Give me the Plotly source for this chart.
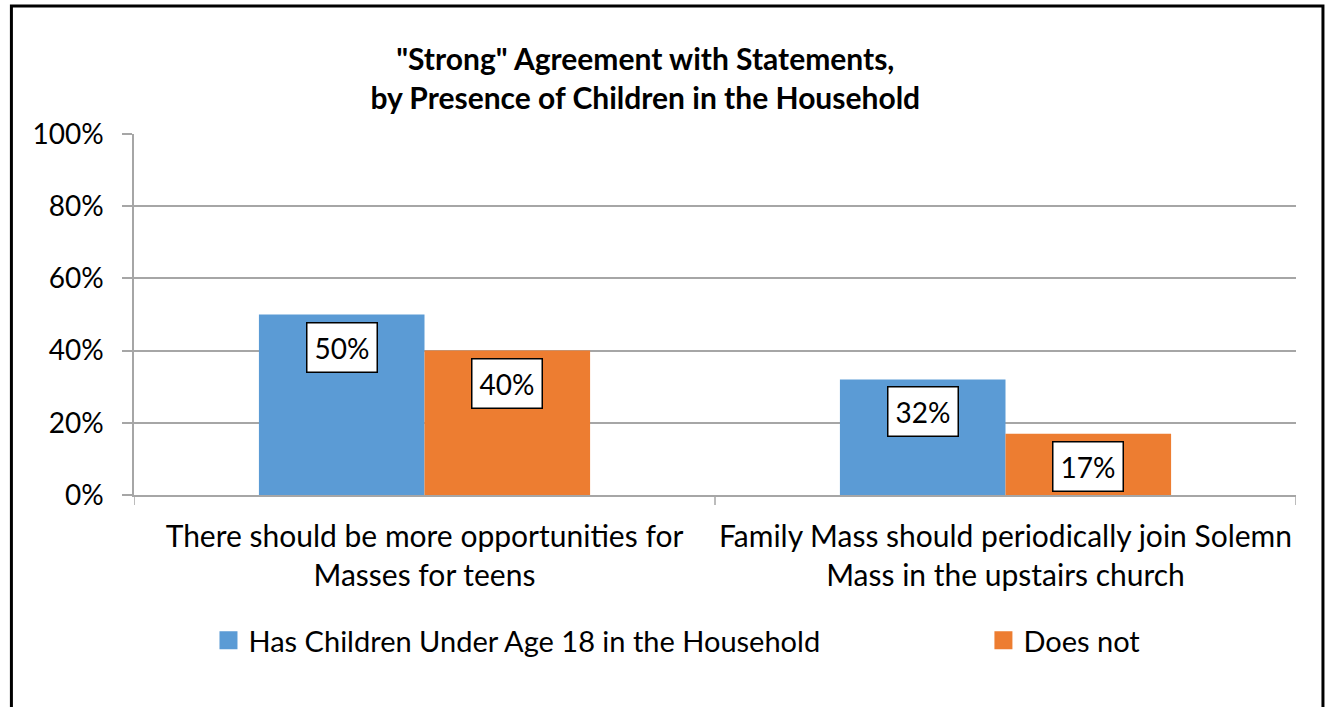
import plotly.graph_objects as go

# Survey results: share answering "strongly agree"
categories = [
    "There should be more opportunities for<br>Masses for teens",
    "Family Mass should periodically join Solemn<br>Mass in the upstairs church",
]
series_names = ["Has Children Under Age 18 in the Household", "Does not"]
has_children = [0.50, 0.32]
does_not = [0.40, 0.17]
y_ticks = [0, 0.2, 0.4, 0.6, 0.8, 1.0]
y_tick_labels = ["0%", "20%", "40%", "60%", "80%", "100%"]

BLUE = "#5B9BD5"
ORANGE = "#ED7D31"
GRID = "#A6A6A6"
FONT = "Lato"

x_idx = list(range(len(categories)))
bargap = 0.43
half = (1 - bargap) / 4  # center offset of each bar within a group

fig = go.Figure()
for name, vals, color, leg in ((series_names[0], has_children, BLUE, "legend"),
                               (series_names[1], does_not, ORANGE, "legend2")):
    fig.add_trace(go.Bar(x=x_idx, y=vals, name=name, legendgroup=name,
                         marker=dict(color=color, line=dict(width=0)),
                         showlegend=False))
    # Legend swatch: a larger square key for each series
    fig.add_trace(go.Scatter(x=[None], y=[None], mode="markers", name=name,
                             legendgroup=name, legend=leg,
                             marker=dict(symbol="square", size=16, color=color,
                                         line=dict(color=color, width=2))))

# Boxed value labels just inside the top of each bar
for offset, vals in ((-half, has_children), (half, does_not)):
    for i, v in zip(x_idx, vals):
        fig.add_annotation(x=i + offset, y=v, xref="x", yref="y",
                           text=f"{round(v * 100)}%", showarrow=False,
                           yanchor="top", yshift=-7,
                           font=dict(family=FONT, size=28, color="black"),
                           bgcolor="white", bordercolor="black",
                           borderwidth=1.5, borderpad=7)

# Outer frame around the chart
fig.add_shape(type="rect", xref="paper", yref="paper",
              x0=-0.1055, x1=1.0232, y0=-0.62, y1=1.3546,
              line=dict(color="black", width=3), fillcolor="rgba(0,0,0,0)",
              layer="above")

legend_common = dict(orientation="h", xanchor="left", y=-0.332, yanchor="top",
                     font=dict(family=FONT, size=29, color="black"),
                     itemwidth=30, bgcolor="rgba(0,0,0,0)")

fig.update_layout(
    width=1329, height=707,
    margin=dict(l=134, r=33, t=134, b=212),
    paper_bgcolor="white", plot_bgcolor="white",
    barmode="group", bargap=bargap, bargroupgap=0,
    font=dict(family=FONT, size=28, color="black"),
    title=dict(text='<b>"Strong" Agreement with Statements,<br>by Presence of Children in the Household</b>',
               x=0.44, xanchor="center", xref="paper",
               y=1 - 70 / 707, yanchor="middle", yref="container",
               font=dict(family=FONT, size=30, color="black")),
    showlegend=True,
    legend=dict(x=0.0641, **legend_common),
    legend2=dict(x=0.731, **legend_common),
    xaxis=dict(tickmode="array", tickvals=x_idx, ticktext=categories,
               range=[-0.5, len(categories) - 0.5],
               showgrid=False, showline=True, linecolor=GRID, linewidth=1.5,
               ticks="", tickfont=dict(family=FONT, size=30), zeroline=False,
               ticklabelstandoff=14),
    yaxis=dict(range=[0, 1], tickmode="array", tickvals=y_ticks, ticktext=y_tick_labels,
               showgrid=True, gridcolor=GRID, gridwidth=1.5,
               showline=True, linecolor=GRID, linewidth=1.5,
               ticks="outside", ticklen=10, tickcolor=GRID, tickwidth=1.5,
               ticklabelstandoff=13, zeroline=False,
               tickfont=dict(family=FONT, size=28)),
)

# Category separator ticks on the horizontal axis
for xb in [-0.5, 0.5, 1.5]:
    fig.add_shape(type="line", xref="x", yref="paper", x0=xb, x1=xb,
                  y0=0, y1=-10 / 361, line=dict(color=GRID, width=1.5))

fig.write_html("out.html")
